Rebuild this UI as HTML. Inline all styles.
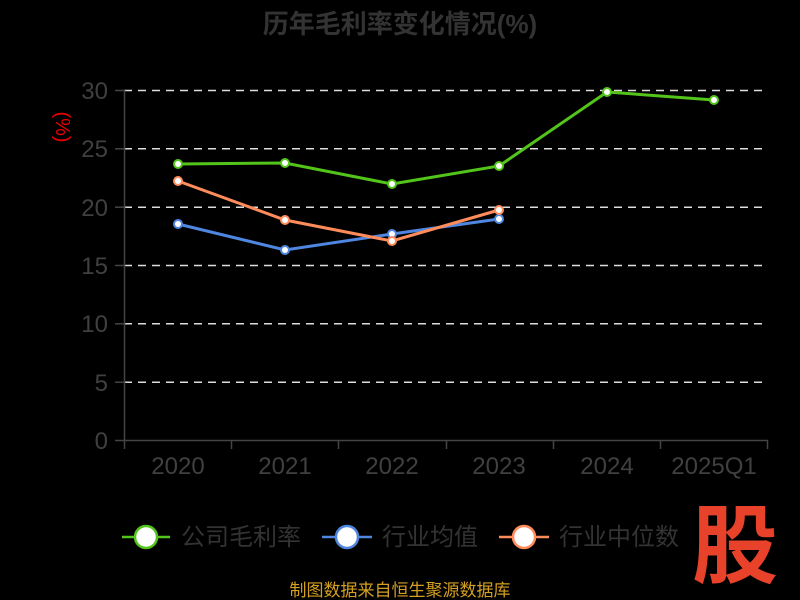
<!DOCTYPE html><html><head><meta charset="utf-8"><style>body{margin:0;background:#000}svg{display:block}</style></head><body>
<svg width="800" height="600" xmlns="http://www.w3.org/2000/svg" font-family="Liberation Sans, Noto Sans CJK SC, sans-serif">
<rect width="800" height="600" fill="#000"/>
<text x="400" y="33" text-anchor="middle" font-size="26" font-weight="bold" fill="#333">历年毛利率变化情况(%)</text>
<g stroke="#ddd" stroke-width="1.5" stroke-dasharray="8,6">
<line x1="124" x2="768" y1="90.5" y2="90.5"/><line x1="124" x2="768" y1="148.8" y2="148.8"/><line x1="124" x2="768" y1="207.2" y2="207.2"/><line x1="124" x2="768" y1="265.5" y2="265.5"/><line x1="124" x2="768" y1="323.8" y2="323.8"/><line x1="124" x2="768" y1="382.2" y2="382.2"/></g>
<g stroke="#444" stroke-width="1.5"><line x1="124.5" y1="90" x2="124.5" y2="440"/><line x1="124" y1="440.5" x2="768" y2="440.5"/>
<line x1="115" x2="124" y1="90.5" y2="90.5"/><line x1="115" x2="124" y1="148.8" y2="148.8"/><line x1="115" x2="124" y1="207.2" y2="207.2"/><line x1="115" x2="124" y1="265.5" y2="265.5"/><line x1="115" x2="124" y1="323.8" y2="323.8"/><line x1="115" x2="124" y1="382.2" y2="382.2"/><line x1="115" x2="124" y1="440.5" y2="440.5"/>
<line x1="124.5" x2="124.5" y1="440" y2="449"/><line x1="231.5" x2="231.5" y1="440" y2="449"/><line x1="338.5" x2="338.5" y1="440" y2="449"/><line x1="446.5" x2="446.5" y1="440" y2="449"/><line x1="553.5" x2="553.5" y1="440" y2="449"/><line x1="660.5" x2="660.5" y1="440" y2="449"/><line x1="767.5" x2="767.5" y1="440" y2="449"/></g>
<g fill="#404040" font-size="24" text-anchor="end"><text x="108" y="99">30</text><text x="108" y="157">25</text><text x="108" y="216">20</text><text x="108" y="274">15</text><text x="108" y="332">10</text><text x="108" y="391">5</text><text x="108" y="449">0</text></g>
<g fill="#404040" font-size="24" text-anchor="middle"><text x="178" y="474">2020</text><text x="285" y="474">2021</text><text x="392" y="474">2022</text><text x="499" y="474">2023</text><text x="607" y="474">2024</text><text x="714" y="474">2025Q1</text></g>
<text transform="translate(56,127) rotate(90)" text-anchor="middle" font-size="20" fill="#e00">(%)</text>
<g fill="none" stroke-width="3">
<polyline stroke="#52c41a" points="178,164 285,163 392,184 499,166 607,92 714,100"/>
<polyline stroke="#4f86e0" points="178,224 285,250 392,234 499,219"/>
<polyline stroke="#ff8c5a" points="178,181 285,220 392,241 499,210"/></g>
<g fill="#fff" stroke-width="2">
<g stroke="#52c41a"><circle cx="178" cy="164" r="4"/><circle cx="285" cy="163" r="4"/><circle cx="392" cy="184" r="4"/><circle cx="499" cy="166" r="4"/><circle cx="607" cy="92" r="4"/><circle cx="714" cy="100" r="4"/></g>
<g stroke="#4f86e0"><circle cx="178" cy="224" r="4"/><circle cx="285" cy="250" r="4"/><circle cx="392" cy="234" r="4"/><circle cx="499" cy="219" r="4"/></g>
<g stroke="#ff8c5a"><circle cx="178" cy="181" r="4"/><circle cx="285" cy="220" r="4"/><circle cx="392" cy="241" r="4"/><circle cx="499" cy="210" r="4"/></g></g>
<g stroke-width="2.5"><line x1="122" x2="170" y1="537" y2="537" stroke="#52c41a"/><circle cx="146" cy="537" r="11" fill="#fff" stroke="#52c41a"/>
<line x1="322" x2="372" y1="537" y2="537" stroke="#4f86e0"/><circle cx="347" cy="537" r="11" fill="#fff" stroke="#4f86e0"/>
<line x1="499" x2="549" y1="537" y2="537" stroke="#ff8c5a"/><circle cx="524" cy="537" r="11" fill="#fff" stroke="#ff8c5a"/></g>
<g fill="#333" font-size="24"><text x="181" y="545">公司毛利率</text><text x="382" y="545">行业均值</text><text x="559" y="545">行业中位数</text></g>
<text x="400" y="596" text-anchor="middle" font-size="17" fill="#d4a020">制图数据来自恒生聚源数据库</text>
<text x="735" y="576" text-anchor="middle" font-size="86" font-weight="bold" fill="#e8432a">股</text>
</svg></body></html>
